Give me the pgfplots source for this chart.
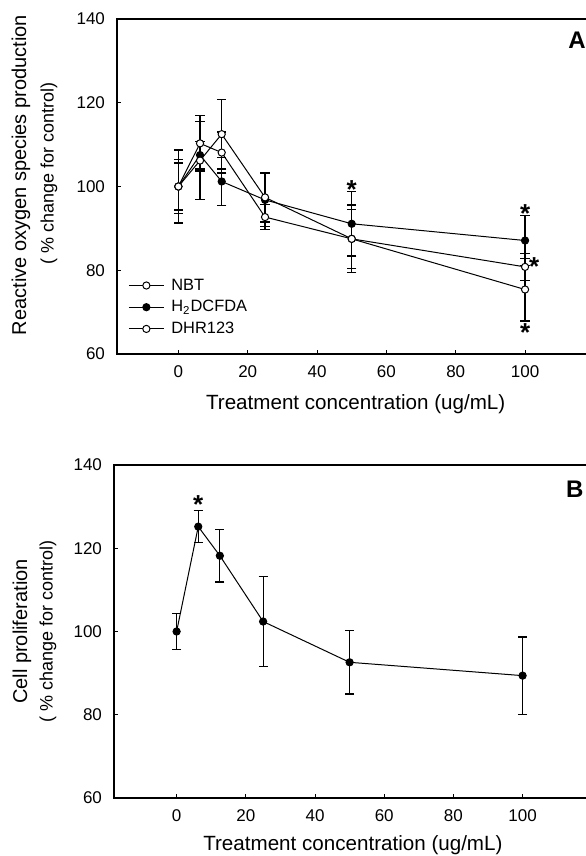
\documentclass[border=0pt]{standalone}
\usepackage{fontspec}
\setmainfont{Liberation Sans}
\usepackage{pgfplots}
\pgfplotsset{compat=1.18}

\pgfplotsset{
  panel/.style={
    scale only axis, clip=false,
    ymin=60, ymax=140, xmax=120,
    xtick={0,20,...,100}, ytick={60,80,...,140},
    tick align=inside, xtick pos=bottom, ytick pos=left,
    major tick length=2pt,
    axis line style={line width=0.6pt},
    tick style={line width=0.5pt, black},
    /pgf/number format/assume math mode=true,
    tick label style={font=\fontsize{8.5}{10}\selectfont},
    xticklabel style={yshift=-2.5pt}, yticklabel style={xshift=-2.5pt},
  },
  ebar/.style={error bars/.cd, y dir=both, y explicit,
    error bar style={line width=0.6pt},
    error mark options={rotate=90, mark size=2.3pt, line width=0.6pt}},
  openc/.style={black, line width=0.5pt, mark=*, mark size=1.8pt,
    mark options={fill=white, draw=black, line width=0.5pt}},
  fullc/.style={black, line width=0.5pt, mark=*, mark size=1.8pt,
    mark options={fill=black, draw=black}},
}
\tikzset{sig/.style={font=\fontsize{13}{13}\selectfont\bfseries, inner sep=0pt, yshift=-3pt}}

\pgfplotstableread{
x     y     e
0     100   5.6
6.25  110.3 6.6
12.5  108.1 4.9
25    92.7  3.0
50    87.5  7.0
100   80.8  3.2
}\nbt
\pgfplotstableread{
x     y     e
0     100   6.5
6.25  107.5 3.3
12.5  101.2 5.7
25    96.8  6.4
50    91.1  7.7
100   87.1  6.0
}\dcf
\pgfplotstableread{
x     y     e
0     100   8.7
6.25  106.2 9.3
12.5  112.5 8.3
25    97.4  5.9
50    87.5  8.1
100   75.4  7.5
}\dhr
\pgfplotstableread{
x     y     e
0     100   4.3
6.25  125.2 3.8
12.5  118.2 6.3
25    102.4 10.8
50    92.6  7.6
100   89.4  9.3
}\prolif

\begin{document}
\begin{tikzpicture}
% panel A
\begin{axis}[panel,
  at={(58.5pt,251pt)}, anchor=south west,
  width=238.7pt, height=167.5pt, xmin=-17.7,
  legend cell align=left,
  legend style={at={(0.023,0.234)}, anchor=north west, draw=none, fill=none,
    inner sep=0pt, column sep=2.5pt, row sep=1.35pt,
    font=\fontsize{8.2}{9}\selectfont,
    nodes={inner sep=1pt, text height=6pt, text depth=1.5pt}},
  legend image code/.code={\draw[mark repeat=2,mark phase=2,#1]
    plot coordinates {(0pt,0pt)(8.75pt,0pt)(17.5pt,0pt)};}
]
\addplot[openc, ebar] table[x=x, y=y, y error=e] {\nbt};
\addlegendentry{NBT}
\addplot[fullc, ebar] table[x=x, y=y, y error=e] {\dcf};
\addlegendentry{H\textsubscript{2}DCFDA}
\addplot[openc, ebar] table[x=x, y=y, y error=e] {\dhr};
\addlegendentry{DHR123}
\node[sig] at (axis cs:50,100.8) {*};
\node[sig] at (axis cs:100,95) {*};
\node[sig] at (axis cs:102.6,82.2) {*};
\node[sig] at (axis cs:100,66.6) {*};
\node[font=\fontsize{12}{12}\selectfont\bfseries] at (axis cs:115,134.9) {A};
\node[anchor=base, font=\fontsize{10.3}{12}\selectfont] at ([yshift=-28pt]rel axis cs:0.5,0) {Treatment concentration (ug/mL)};
\node[rotate=90, font=\fontsize{10}{12}\selectfont] at ([xshift=-48pt]rel axis cs:0,0.534) {Reactive oxygen species production};
\node[rotate=90, font=\fontsize{9}{10}\selectfont] at ([xshift=-34pt]rel axis cs:0,0.54) {( \% change for control)};
\end{axis}
% panel B
\begin{axis}[panel,
  at={(57pt,29pt)}, anchor=south west,
  width=238.9pt, height=166.5pt, xmin=-18.1]
\addplot[fullc, ebar] table[x=x, y=y, y error=e] {\prolif};
\node[sig] at (axis cs:6.25,132) {*};
\node[font=\fontsize{12}{12}\selectfont\bfseries] at (axis cs:115.1,134.2) {B};
\node[anchor=base, font=\fontsize{10.3}{12}\selectfont] at ([yshift=-26.3pt]rel axis cs:0.5,0) {Treatment concentration (ug/mL)};
\node[rotate=90, font=\fontsize{10}{12}\selectfont] at ([xshift=-46pt]rel axis cs:0,0.5) {Cell proliferation};
\node[rotate=90, font=\fontsize{9}{10}\selectfont] at ([xshift=-33pt]rel axis cs:0,0.5) {( \% change for control)};
\end{axis}
\pgfresetboundingbox
\useasboundingbox (0,0) rectangle (292.5pt,428pt);
\end{tikzpicture}
\end{document}
